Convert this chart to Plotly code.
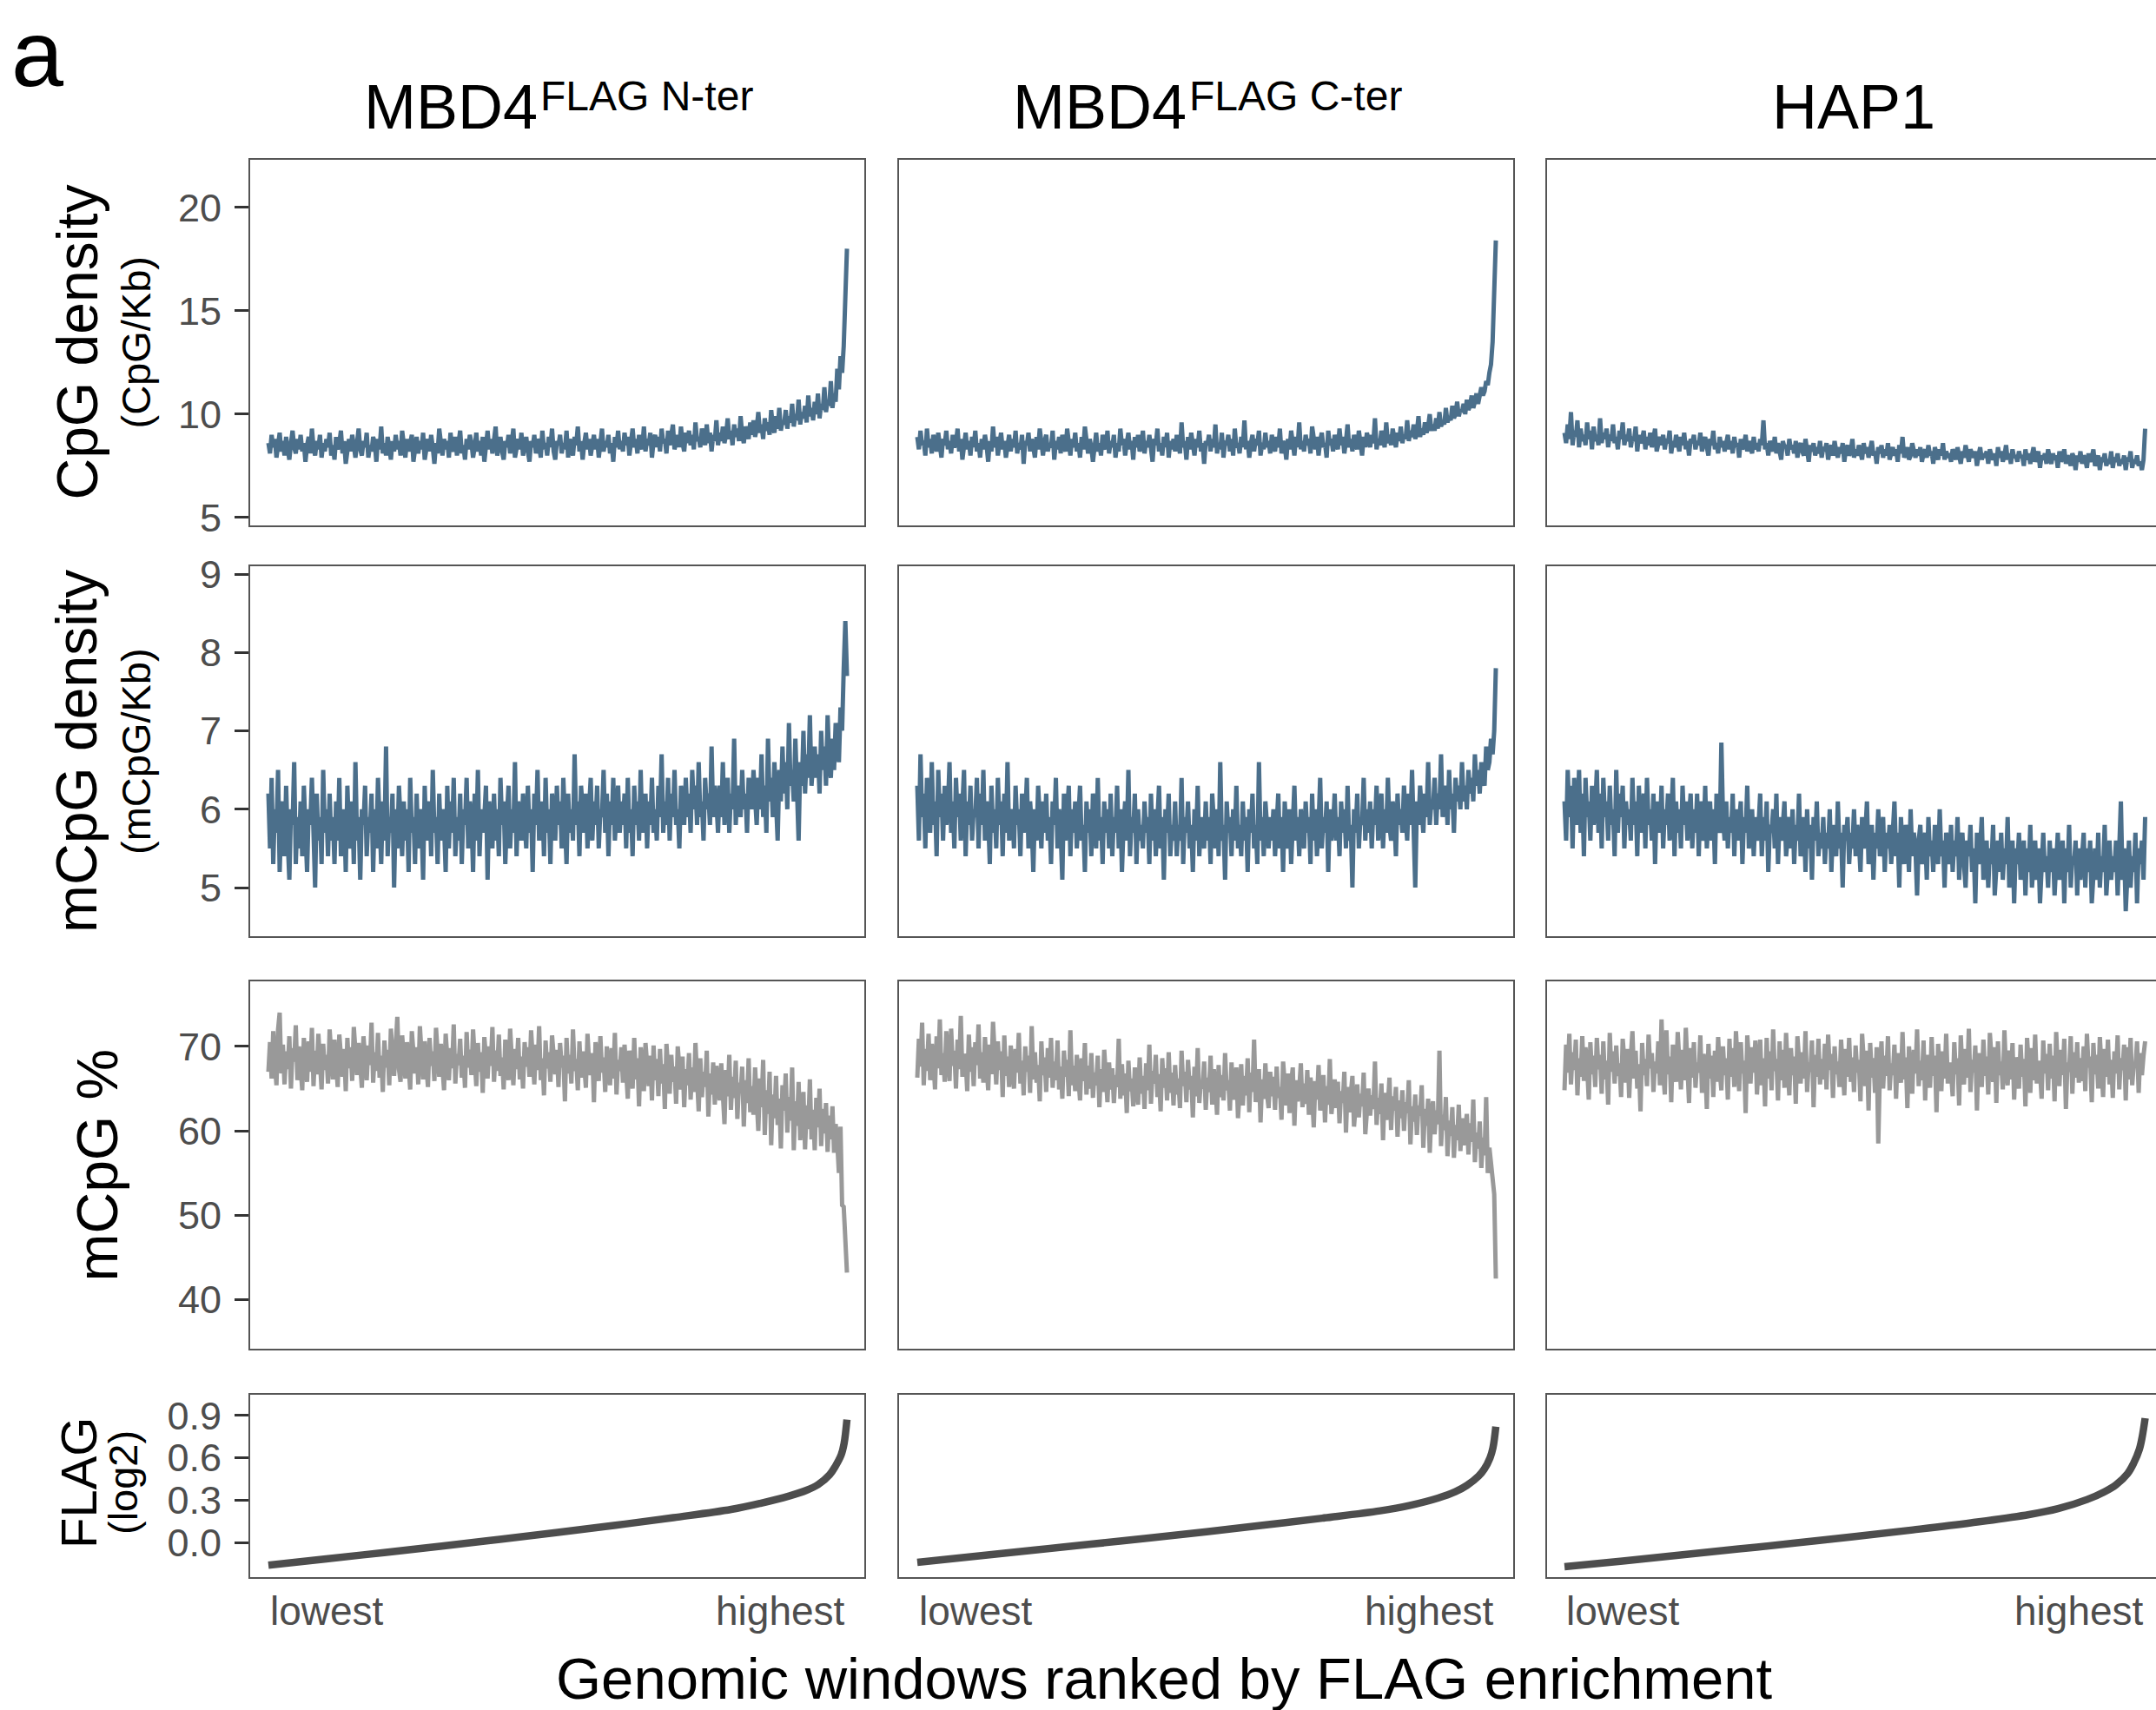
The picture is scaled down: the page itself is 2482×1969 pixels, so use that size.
import plotly.graph_objects as go

W, H = 2482, 1969

# ---------------- data ----------------
col_main = ["MBD4", "MBD4", "HAP1"]
col_sup = ["FLAG N-ter", "FLAG C-ter", None]
x_tick_labels = ["lowest", "highest"]
x_title = "Genomic windows ranked by FLAG enrichment"

cpg_nter = [
    8.6, 8.1, 9.0, 8.4, 8.8, 7.9, 8.5, 9.1, 8.2, 8.7, 8.0, 8.9, 8.3, 7.8, 8.6, 9.2, 8.4, 8.1, 8.8, 8.3,
    9.0, 8.2, 8.6, 7.7, 8.5, 8.9, 8.1, 9.3, 8.4, 8.0, 8.7, 8.3, 9.0, 7.9, 8.6, 8.2, 8.8, 8.4, 9.1, 8.0,
    8.5, 7.8, 8.9, 8.3, 8.6, 9.2, 8.1, 8.7, 7.6, 8.4, 8.8, 8.2, 9.0, 8.5, 7.9, 8.6, 9.3, 8.3, 8.0, 8.7,
    8.4, 9.1, 7.9, 8.5, 8.2, 8.9, 8.6, 7.7, 8.8, 8.3, 9.4, 8.1, 8.6, 8.0, 8.9, 8.4, 7.8, 8.7, 8.2, 9.0,
    8.3, 8.7, 8.0, 9.2, 8.5, 7.9, 8.8, 8.2, 8.6, 9.0, 7.7, 8.4, 8.9, 8.1, 8.7, 8.3, 9.1, 7.8, 8.5, 8.8,
    8.2, 9.0, 8.4, 7.6, 8.6, 8.1, 9.3, 8.5, 8.0, 8.8, 8.3, 8.7, 7.9, 9.1, 8.4, 8.2, 8.9, 8.0, 8.6, 9.2,
    8.1, 8.5, 7.8, 8.8, 8.3, 9.0, 8.6, 7.9, 8.4, 9.1, 8.2, 8.7, 8.0, 8.9, 7.7, 8.5, 9.2, 8.3, 8.8, 8.1,
    8.6, 9.4, 8.0, 8.5, 8.9, 8.2, 7.8, 8.7, 8.4, 9.0, 8.1, 8.6, 9.3, 7.9, 8.5, 8.8, 8.3, 9.1, 8.0, 8.6,
    8.9, 8.2, 7.7, 8.7, 8.4, 9.0, 8.1, 8.8, 8.5, 7.9, 9.2, 8.3, 8.6, 8.0, 8.9, 8.4, 9.3, 8.2, 7.8, 8.7,
    8.5, 9.0, 8.1, 8.6, 8.3, 9.2, 7.9, 8.8, 8.4, 8.0, 8.9, 8.5, 9.4, 8.2, 8.7, 7.8, 8.6, 9.1, 8.3, 8.8,
    8.0, 8.6, 9.0, 8.3, 8.8, 7.9, 8.5, 9.3, 8.2, 8.7, 8.4, 9.0, 8.1, 8.6, 7.7, 8.9, 8.4, 9.2, 8.3, 8.7,
    8.2, 9.1, 8.5, 8.9, 8.0, 8.7, 9.3, 8.4, 8.8, 8.1, 9.0, 8.6, 8.3, 9.4, 8.2, 8.8, 8.5, 9.1, 7.9, 8.7,
    9.0, 8.4, 8.9, 8.2, 9.3, 8.6, 8.8, 8.1, 9.2, 8.5, 8.9, 9.5, 8.3, 8.7, 9.0, 8.4, 9.4, 8.6, 8.2, 9.1,
    8.6, 9.2, 8.5, 9.0, 8.3, 9.6, 8.7, 8.9, 8.4, 9.3, 8.8, 8.5, 9.5, 8.6, 9.1, 8.2, 9.0, 8.7, 9.7, 8.5,
    9.1, 8.7, 9.4, 8.6, 9.0, 9.8, 8.8, 9.2, 8.5, 9.5, 8.9, 9.3, 8.7, 9.9, 9.0, 8.6, 9.4, 9.1, 8.8, 9.6,
    9.0, 9.7, 8.9, 9.3, 10.1, 9.1, 9.5, 8.8, 9.8, 9.2, 9.6, 9.0, 10.2, 9.4, 9.1, 9.9, 9.3, 10.3, 9.2, 9.7,
    9.5, 10.2, 9.3, 9.9, 9.6, 10.5, 9.4, 10.0, 9.7, 10.7, 9.5, 10.1, 9.8, 10.4, 9.6, 10.9, 9.9, 10.3, 9.7, 10.6,
    10.0, 11.0, 9.8, 10.5, 10.2, 11.3, 10.1, 10.7, 10.4, 11.6, 10.3, 11.0, 10.6, 12.2, 11.2, 12.8, 12.0, 13.3, 15.2, 18.0,
]
cpg_cter = [
    8.9, 8.3, 9.2, 8.5, 8.7, 8.0, 9.3, 8.4, 8.8, 8.1, 9.0, 8.6, 8.2, 9.1, 8.4, 7.9, 8.8, 8.5, 9.2, 8.3,
    8.7, 8.1, 9.0, 8.4, 8.6, 9.3, 8.2, 8.8, 7.8, 8.5, 9.1, 8.3, 8.7, 8.0, 8.9, 8.4, 9.2, 8.2, 8.6, 7.9,
    8.8, 8.3, 9.0, 8.5, 7.7, 8.7, 8.2, 9.4, 8.4, 8.9, 8.0, 8.6, 9.1, 8.3, 8.7, 7.9, 8.5, 9.0, 8.2, 8.8,
    8.4, 9.2, 8.1, 8.6, 8.3, 9.0, 7.6, 8.7, 8.5, 9.1, 8.2, 8.8, 8.4, 7.9, 8.9, 8.3, 9.3, 8.5, 8.0, 8.7,
    9.0, 8.2, 8.6, 8.4, 9.2, 7.8, 8.7, 8.3, 8.9, 8.1, 9.0, 8.5, 8.2, 9.3, 8.6, 8.0, 8.8, 8.4, 9.1, 8.2,
    8.6, 7.9, 8.9, 8.3, 9.4, 8.5, 8.1, 8.8, 8.4, 7.7, 8.7, 9.1, 8.2, 8.6, 8.0, 9.0, 8.5, 8.3, 9.2, 8.1,
    8.7, 8.4, 9.0, 7.9, 8.6, 8.2, 9.3, 8.5, 8.8, 8.0, 8.6, 9.1, 8.3, 8.7, 7.8, 8.9, 8.4, 9.0, 8.2, 8.5,
    9.2, 8.1, 8.7, 8.4, 9.0, 8.3, 7.7, 8.8, 8.5, 9.3, 8.2, 8.6, 8.0, 8.9, 8.4, 9.1, 7.9, 8.7, 8.3, 8.8,
    8.2, 9.0, 8.5, 8.1, 9.6, 8.4, 8.7, 7.8, 8.9, 8.3, 9.1, 8.6, 8.0, 8.8, 8.4, 9.2, 8.2, 8.6, 7.6, 8.7,
    8.5, 9.0, 8.2, 8.8, 8.4, 9.5, 8.1, 8.6, 8.3, 9.1, 7.9, 8.7, 8.5, 9.0, 8.2, 8.8, 8.0, 9.3, 8.4, 8.6,
    8.1, 8.9, 8.4, 9.7, 8.3, 8.7, 7.9, 8.6, 9.0, 8.2, 8.8, 8.5, 9.2, 8.0, 8.6, 8.3, 9.1, 8.4, 8.7, 8.1,
    9.0, 8.5, 8.2, 8.9, 8.4, 9.3, 8.1, 8.7, 8.5, 7.8, 8.8, 8.3, 9.2, 8.6, 8.0, 8.9, 8.4, 9.6, 8.3, 8.7,
    8.2, 9.0, 8.5, 8.8, 8.1, 9.4, 8.6, 8.3, 8.9, 8.0, 8.7, 9.1, 8.4, 8.6, 7.9, 9.2, 8.5, 8.8, 8.2, 9.0,
    8.6, 8.3, 9.3, 8.5, 8.9, 8.1, 8.7, 9.5, 8.4, 8.8, 8.2, 9.0, 8.6, 8.3, 9.2, 8.5, 8.0, 8.9, 8.4, 9.1,
    8.7, 8.4, 9.0, 8.6, 9.8, 8.3, 8.8, 8.5, 9.2, 8.7, 8.4, 9.6, 8.6, 9.0, 8.5, 9.3, 8.8, 8.4, 9.1, 8.7,
    9.4, 8.6, 9.0, 8.8, 9.7, 8.7, 9.2, 8.9, 9.5, 8.8, 9.1, 9.9, 8.9, 9.3, 9.0, 9.6, 9.1, 9.4, 10.0, 9.2,
    9.5, 9.2, 9.8, 9.3, 10.1, 9.4, 9.7, 9.5, 10.3, 9.6, 9.9, 9.7, 10.4, 9.8, 10.0, 10.6, 9.9, 10.2, 10.1, 10.5,
    10.0, 10.7, 10.2, 10.4, 10.9, 10.3, 10.6, 11.0, 10.5, 10.8, 11.3, 10.9, 11.1, 11.6, 11.4, 12.0, 12.4, 13.5, 15.5, 18.4,
]
cpg_hap1 = [
    9.1, 8.6, 9.5, 8.8, 10.1, 8.5, 9.2, 8.9, 9.7, 8.4, 9.3, 8.7, 9.0, 8.5, 9.6, 8.8, 9.2, 8.3, 9.4, 8.7,
    9.0, 8.5, 9.8, 8.6, 9.1, 8.8, 9.3, 8.4, 9.0, 8.7, 9.5, 8.6, 8.9, 8.3, 9.2, 8.8, 9.6, 8.5, 9.0, 8.7,
    9.3, 8.4, 8.9, 8.7, 9.4, 8.2, 9.0, 8.6, 8.8, 9.2, 8.3, 8.9, 8.5, 9.1, 8.4, 8.8, 9.3, 8.2, 8.7, 8.9,
    8.5, 9.0, 8.3, 8.8, 8.6, 9.2, 8.1, 8.7, 8.4, 9.0, 8.6, 8.2, 8.9, 8.5, 9.1, 8.3, 8.7, 8.0, 8.8, 8.6,
    9.0, 8.3, 8.7, 8.5, 9.1, 8.2, 8.6, 8.9, 8.4, 8.0, 8.8, 8.5, 9.2, 8.3, 8.6, 8.1, 8.9, 8.4, 8.7, 8.2,
    8.6, 9.0, 8.3, 8.7, 8.1, 8.9, 8.4, 8.6, 7.9, 8.8, 8.3, 8.5, 9.0, 8.2, 8.7, 8.4, 8.1, 8.9, 8.3, 8.6,
    8.2, 8.8, 8.5, 9.7, 8.3, 8.6, 8.0, 8.7, 8.4, 8.2, 8.9, 8.1, 8.6, 8.3, 7.8, 8.7, 8.4, 8.5, 8.0, 8.8,
    8.3, 8.5, 8.1, 8.7, 7.9, 8.4, 8.6, 8.2, 8.0, 8.8, 8.3, 7.7, 8.5, 8.2, 8.6, 8.0, 8.4, 8.1, 8.7, 7.9,
    8.4, 8.2, 8.6, 7.8, 8.3, 8.5, 8.0, 8.7, 8.2, 7.9, 8.4, 8.1, 8.6, 7.7, 8.3, 8.5, 8.0, 8.2, 8.8, 7.9,
    8.3, 8.0, 8.5, 8.2, 7.8, 8.6, 8.1, 8.4, 7.9, 8.3, 8.7, 8.0, 8.2, 7.6, 8.4, 8.1, 8.5, 7.9, 8.3, 8.0,
    8.6, 7.8, 8.2, 8.4, 8.0, 8.3, 7.7, 8.5, 8.1, 8.9, 7.9, 8.2, 8.4, 7.8, 8.0, 8.6, 8.1, 7.9, 8.3, 8.0,
    8.4, 7.7, 8.1, 8.3, 7.9, 8.5, 8.0, 8.2, 7.6, 8.4, 8.1, 7.8, 8.3, 8.0, 8.6, 7.8, 8.2, 7.9, 8.1, 7.7,
    8.3, 8.0, 7.8, 8.4, 8.1, 7.6, 8.2, 7.9, 8.5, 8.0, 7.7, 8.3, 8.1, 7.9, 8.2, 7.5, 8.0, 8.4, 7.8, 8.1,
    7.9, 8.2, 7.6, 8.3, 8.0, 7.8, 8.1, 7.5, 8.4, 7.9, 8.2, 7.7, 8.0, 8.5, 7.8, 8.1, 7.6, 8.3, 7.9, 8.0,
    7.7, 8.2, 7.9, 8.0, 7.5, 8.3, 7.8, 8.1, 7.6, 8.0, 8.4, 7.7, 7.9, 8.2, 7.4, 8.0, 7.8, 8.1, 7.6, 8.3,
    7.9, 7.6, 8.1, 7.8, 8.0, 7.4, 8.2, 7.7, 7.9, 8.3, 7.6, 8.0, 7.8, 7.5, 8.1, 7.9, 7.3, 8.0, 7.7, 8.2,
    7.6, 8.0, 7.8, 7.4, 8.1, 7.7, 7.9, 8.3, 7.5, 7.8, 8.0, 7.3, 7.9, 7.7, 8.1, 7.5, 7.8, 7.6, 8.2, 7.4,
    7.9, 7.7, 8.1, 7.5, 7.8, 7.6, 8.0, 7.3, 7.9, 7.7, 8.2, 7.4, 7.8, 7.6, 8.0, 7.5, 7.7, 7.3, 7.8, 9.3,
]

mcpg_dens_nter = [
    6.2, 5.5, 6.4, 5.3, 6.0, 5.7, 6.5, 5.2, 5.9, 6.1, 5.4, 6.3, 5.6, 5.1, 6.0, 5.8, 6.6, 5.3, 5.9, 5.5,
    6.1, 5.4, 6.3, 5.7, 5.2, 6.0, 5.8, 6.4, 5.5, 5.0, 6.2, 5.6, 5.9, 5.3, 6.5, 5.7, 6.0, 5.4, 6.2, 5.6,
    5.9, 5.3, 6.1, 5.6, 6.4, 5.4, 5.8, 6.0, 5.2, 6.3, 5.7, 5.5, 6.1, 5.3, 6.6, 5.6, 5.9, 5.1, 6.0, 5.8,
    6.3, 5.4, 5.9, 5.7, 6.2, 5.2, 6.0, 5.5, 6.4, 5.8, 5.3, 6.1, 5.6, 6.8, 5.4, 5.9, 5.7, 6.2, 5.0, 6.0,
    5.5, 6.3, 5.8, 5.4, 6.1, 5.6, 6.0, 5.2, 6.4, 5.7, 5.9, 5.3, 6.2, 5.5, 6.0, 5.8, 5.1, 6.3, 5.6, 5.9,
    6.1, 5.4, 6.5, 5.7, 5.9, 5.3, 6.2, 5.6, 6.0, 5.8, 5.2, 6.3, 5.5, 6.1, 5.7, 6.4, 5.4, 5.9, 5.6, 6.2,
    5.3, 6.0, 5.8, 6.4, 5.5, 6.1, 5.9, 5.2, 6.2, 5.6, 6.5, 5.4, 6.0, 5.7, 5.9, 6.3, 5.1, 6.1, 5.8, 5.5,
    6.2, 5.6, 6.0, 5.4, 6.4, 5.8, 6.1, 5.3, 5.9, 6.3, 5.5, 6.0, 5.7, 6.6, 5.4, 6.1, 5.9, 5.6, 6.2, 5.8,
    5.5, 6.3, 5.7, 6.0, 5.2, 6.2, 5.8, 6.5, 5.6, 5.9, 6.1, 5.4, 6.4, 5.7, 6.0, 5.3, 6.2, 5.9, 5.6, 6.3,
    5.8, 6.1, 5.5, 6.4, 5.9, 5.3, 6.2, 5.7, 6.0, 5.6, 6.7, 5.8, 6.1, 5.4, 6.3, 5.9, 5.7, 6.2, 5.5, 6.0,
    6.4, 5.6, 6.1, 5.8, 6.3, 5.5, 6.0, 5.9, 6.5, 5.7, 6.2, 5.4, 6.1, 5.8, 6.4, 5.6, 6.0, 6.3, 5.7, 6.1,
    5.8, 6.2, 5.5, 6.4, 5.7, 6.0, 5.4, 6.3, 5.8, 6.1, 5.6, 6.5, 5.7, 5.9, 6.2, 5.5, 6.1, 5.8, 6.4, 5.7,
    6.0, 5.6, 6.3, 5.9, 6.7, 5.7, 6.1, 5.8, 6.4, 5.6, 6.2, 5.9, 6.5, 5.8, 6.0, 5.5, 6.3, 6.1, 5.8, 6.4,
    5.9, 6.2, 5.7, 6.5, 6.0, 6.3, 5.8, 6.6, 5.9, 6.1, 5.6, 6.4, 6.0, 6.2, 5.8, 6.8, 5.9, 6.3, 6.1, 5.7,
    6.3, 5.9, 6.6, 5.8, 6.1, 6.4, 5.7, 6.2, 6.0, 6.9, 5.8, 6.3, 6.1, 5.9, 6.5, 6.0, 6.2, 5.7, 6.4, 6.1,
    6.0, 6.5, 6.1, 5.8, 6.4, 6.0, 6.7, 5.9, 6.3, 5.7, 6.9, 6.1, 6.4, 5.9, 6.6, 6.2, 5.6, 6.5, 6.1, 6.8,
    6.2, 6.6, 6.0, 7.1, 6.3, 6.5, 6.1, 6.9, 6.4, 5.6, 6.6, 6.3, 7.0, 6.2, 6.7, 6.4, 7.2, 6.3, 6.6, 6.8,
    6.4, 6.7, 6.2, 7.0, 6.5, 6.8, 6.3, 7.2, 6.6, 6.4, 6.9, 6.5, 7.1, 6.8, 6.6, 7.3, 7.0, 7.8, 8.4, 7.7,
]
mcpg_dens_cter = [
    6.3, 5.6, 6.7, 5.9, 6.2, 5.5, 6.4, 6.0, 5.7, 6.6, 5.8, 6.1, 5.4, 6.5, 5.9, 6.2, 5.6, 6.3, 5.8, 6.0,
    6.6, 5.7, 6.1, 5.5, 6.4, 5.9, 6.2, 5.6, 6.0, 6.5, 5.4, 6.1, 5.8, 6.3, 5.6, 6.0, 5.9, 6.4, 5.5, 6.2,
    5.8, 6.5, 5.6, 6.1, 5.9, 5.3, 6.3, 5.7, 6.0, 5.5, 6.4, 5.8, 6.1, 5.4, 6.2, 5.7, 6.6, 5.6, 5.9, 6.0,
    5.5, 6.3, 5.8, 6.0, 5.4, 6.2, 5.7, 5.9, 6.4, 5.5, 6.1, 5.8, 5.2, 6.0, 5.6, 6.3, 5.9, 5.5, 6.1, 5.7,
    6.2, 5.6, 5.9, 5.3, 6.1, 5.8, 6.4, 5.5, 6.0, 5.7, 5.1, 6.2, 5.6, 5.9, 6.3, 5.4, 6.0, 5.7, 6.1, 5.5,
    5.9, 6.3, 5.6, 5.8, 5.2, 6.1, 5.7, 6.0, 5.4, 6.2, 5.8, 5.5, 6.4, 5.6, 5.9, 5.3, 6.1, 5.7, 6.0, 5.5,
    6.2, 5.4, 5.9, 5.7, 6.3, 5.5, 6.0, 5.2, 5.8, 6.1, 5.6, 6.5, 5.4, 5.9, 5.7, 6.2, 5.3, 6.0, 5.6, 5.8,
    5.5, 6.1, 5.7, 5.9, 5.3, 6.2, 5.6, 6.0, 5.4, 5.8, 6.3, 5.5, 5.9, 5.1, 6.0, 5.7, 6.2, 5.4, 5.8, 5.6,
    6.1, 5.4, 5.8, 5.6, 6.4, 5.3, 5.9, 5.7, 6.1, 5.5, 5.8, 5.2, 6.0, 5.6, 6.3, 5.4, 5.9, 5.7, 5.5, 6.1,
    5.6, 5.9, 5.3, 6.2, 5.7, 5.5, 6.0, 5.4, 6.6, 5.6, 5.8, 5.1, 6.1, 5.7, 5.9, 5.4, 6.0, 5.6, 6.3, 5.5,
    5.8, 5.4, 6.1, 5.6, 5.9, 5.2, 6.0, 5.7, 6.2, 5.5, 5.8, 5.3, 6.6, 5.6, 5.9, 5.4, 6.1, 5.7, 5.5, 5.9,
    5.6, 6.0, 5.4, 5.8, 6.2, 5.5, 5.9, 5.2, 6.1, 5.7, 5.5, 6.0, 5.3, 5.8, 6.3, 5.6, 5.9, 5.4, 6.0, 5.7,
    5.5, 6.1, 5.7, 5.9, 5.3, 6.2, 5.6, 6.0, 5.4, 5.8, 6.4, 5.5, 5.9, 5.7, 6.1, 5.2, 6.0, 5.6, 5.8, 6.2,
    5.6, 5.9, 5.4, 6.1, 5.7, 6.0, 5.5, 6.3, 5.6, 5.8, 5.0, 6.0, 5.7, 6.2, 5.5, 5.9, 5.8, 6.4, 5.6, 6.0,
    5.7, 6.1, 5.5, 6.0, 5.8, 6.3, 5.6, 5.9, 6.2, 5.5, 6.0, 5.7, 6.4, 5.8, 5.6, 6.1, 5.9, 5.4, 6.2, 5.8,
    6.0, 5.7, 6.3, 5.9, 5.6, 6.2, 5.8, 6.5, 5.9, 5.0, 6.1, 5.8, 6.3, 6.0, 5.7, 6.2, 5.9, 6.6, 5.8, 6.1,
    6.0, 6.4, 5.8, 6.2, 6.0, 6.7, 5.9, 6.1, 6.3, 5.8, 6.5, 6.0, 6.2, 5.7, 6.4, 6.1, 6.3, 6.0, 6.6, 6.1,
    6.3, 6.0, 6.5, 6.2, 6.4, 6.1, 6.7, 6.3, 6.5, 6.2, 6.6, 6.4, 6.3, 6.8, 6.5, 6.6, 6.9, 6.7, 7.0, 7.8,
]
mcpg_dens_hap1 = [
    6.1, 5.6, 6.5, 5.9, 6.3, 5.5, 6.4, 6.0, 5.8, 6.5, 5.7, 6.2, 5.4, 6.4, 5.9, 6.1, 5.6, 6.3, 5.8, 6.0,
    6.5, 5.7, 6.2, 5.5, 6.4, 5.9, 6.1, 5.6, 6.3, 5.8, 6.0, 5.4, 6.5, 5.7, 6.2, 5.9, 6.3, 5.5, 6.1, 5.8,
    6.0, 5.6, 6.4, 5.8, 6.1, 5.4, 6.3, 5.7, 5.9, 6.2, 5.5, 6.4, 5.8, 6.0, 5.6, 6.2, 5.3, 6.1, 5.9, 5.7,
    6.3, 5.5, 6.0, 5.8, 6.2, 5.6, 5.9, 6.4, 5.4, 6.1, 5.7, 6.0, 5.5, 6.3, 5.8, 6.1, 5.6, 5.9, 6.2, 5.5,
    6.0, 5.7, 6.2, 5.4, 6.1, 5.8, 5.6, 6.3, 5.5, 5.9, 6.1, 5.6, 6.0, 5.3, 6.2, 5.8, 5.7, 6.85, 5.9, 5.6,
    6.1, 5.5, 5.9, 5.7, 6.2, 5.4, 6.0, 5.6, 5.8, 6.1, 5.3, 5.9, 5.7, 6.3, 5.5, 5.8, 6.0, 5.4, 5.9, 5.6,
    5.8, 6.2, 5.4, 5.9, 5.6, 6.1, 5.2, 5.8, 5.7, 6.0, 5.5, 6.2, 5.3, 5.9, 5.6, 5.8, 6.1, 5.4, 5.7, 5.9,
    5.5, 6.0, 5.3, 5.8, 5.6, 6.2, 5.4, 5.7, 5.9, 5.2, 6.0, 5.5, 5.8, 5.1, 5.9, 5.6, 6.1, 5.4, 5.7, 5.5,
    5.9, 5.3, 5.7, 5.5, 6.0, 5.2, 5.8, 5.6, 5.4, 6.1, 5.5, 5.7, 5.0, 5.8, 5.6, 5.9, 5.3, 5.7, 5.5, 6.0,
    5.4, 5.8, 5.6, 5.2, 5.9, 5.5, 5.7, 6.1, 5.3, 5.6, 5.8, 5.1, 5.7, 5.5, 6.0, 5.4, 5.6, 5.9, 5.2, 5.7,
    5.5, 5.8, 5.3, 5.6, 6.1, 5.4, 5.7, 5.0, 5.9, 5.5, 5.3, 5.8, 5.6, 5.2, 6.0, 5.4, 5.7, 5.5, 4.9, 5.6,
    5.8, 5.3, 5.5, 5.7, 5.1, 5.9, 5.4, 5.6, 5.2, 5.8, 5.5, 5.3, 6.0, 5.4, 5.6, 5.0, 5.7, 5.5, 5.3, 5.8,
    5.2, 5.6, 5.4, 5.9, 5.1, 5.5, 5.7, 5.3, 5.0, 5.6, 5.4, 5.8, 5.2, 5.5, 4.8, 5.7, 5.3, 5.5, 5.9, 5.1,
    5.4, 5.6, 5.0, 5.5, 5.3, 5.8, 4.9, 5.4, 5.6, 5.2, 5.7, 5.1, 5.5, 5.3, 5.9, 5.0, 5.4, 5.6, 4.8, 5.5,
    5.3, 5.7, 5.1, 5.4, 5.6, 4.9, 5.5, 5.2, 5.8, 5.0, 5.4, 5.6, 5.1, 5.5, 4.8, 5.3, 5.7, 5.2, 5.4, 5.0,
    5.6, 5.2, 5.5, 4.9, 5.4, 5.7, 5.1, 5.3, 5.6, 4.8, 5.5, 5.2, 5.8, 5.0, 5.4, 5.3, 5.6, 4.9, 5.5, 5.1,
    5.4, 5.7, 5.0, 5.5, 5.2, 5.6, 4.8, 5.3, 5.5, 5.1, 5.7, 5.0, 5.4, 5.2, 5.8, 4.9, 5.3, 5.6, 5.1, 5.4,
    5.2, 5.6, 4.9, 5.4, 6.1, 5.1, 5.5, 4.7, 5.3, 5.6, 5.0, 5.4, 5.2, 5.7, 4.8, 5.5, 5.3, 5.6, 5.1, 5.9,
]

mcpg_pct_nter = [
    67.0, 70.5, 66.2, 71.8, 68.0, 65.4, 72.0, 74.0, 66.8, 70.2, 65.5, 69.4, 67.3, 71.2, 65.0, 69.8, 68.2, 72.5, 66.0, 70.0,
    67.5, 64.8, 71.0, 68.3, 65.8, 70.6, 67.0, 72.2, 65.3, 69.5, 66.7, 71.5, 68.0, 64.9, 70.3, 67.2, 69.0, 65.6, 72.0, 68.5,
    66.1, 70.8, 67.6, 65.2, 71.4, 68.8, 66.4, 69.7, 64.7, 71.0, 67.4, 69.9, 65.9, 72.3, 68.1, 66.6, 70.4, 67.0, 65.1, 71.2,
    68.6, 66.0, 70.1, 67.8, 72.8, 65.7, 69.3, 67.1, 71.6, 66.3, 68.9, 64.6, 70.7, 67.5, 69.6, 65.4, 72.1, 68.2, 66.5, 70.0,
    73.5, 67.3, 65.8, 71.3, 68.7, 66.2, 70.5, 67.6, 64.9, 71.8, 68.4, 66.8, 69.9, 65.5, 72.4, 67.9, 66.1, 70.6, 68.3, 65.2,
    71.0, 67.7, 69.4, 65.9, 72.2, 68.0, 66.4, 70.3, 67.2, 64.8, 71.5, 68.6, 66.0, 69.8, 67.4, 72.6, 65.6, 69.1, 67.8, 70.9,
    66.3, 68.9, 65.1, 71.7, 67.5, 69.6, 66.6, 72.0, 68.1, 65.3, 70.4, 67.0, 69.3, 64.5, 71.1, 68.4, 66.2, 70.0, 67.7, 72.3,
    65.8, 69.5, 67.1, 71.4, 66.5, 68.7, 64.9, 70.8, 67.9, 66.0, 72.1, 68.2, 65.4, 69.7, 67.3, 71.0, 66.1, 68.8, 65.0, 70.5,
    67.6, 69.9, 66.4, 71.9, 68.0, 65.5, 70.2, 67.2, 72.4, 66.0, 68.6, 64.2, 70.7, 67.4, 69.3, 65.8, 71.3, 68.1, 66.7, 69.6,
    65.2, 70.4, 67.5, 68.9, 63.5, 71.0, 66.8, 69.0, 65.6, 72.0, 67.1, 68.5, 64.8, 70.6, 66.3, 69.4, 67.8, 65.1, 71.5, 68.0,
    66.6, 69.2, 63.4, 70.5, 67.3, 65.9, 71.2, 66.9, 68.7, 64.6, 70.0, 67.0, 65.4, 69.8, 66.2, 71.6, 64.3, 68.4, 67.1, 69.9,
    65.7, 70.2, 66.8, 63.8, 69.5, 67.4, 65.0, 71.0, 66.1, 68.6, 62.9, 69.9, 66.5, 64.7, 70.4, 67.2, 65.3, 68.9, 63.6, 70.1,
    66.0, 68.5, 64.1, 69.7, 65.6, 67.9, 62.6, 70.3, 66.4, 64.4, 69.0, 65.8, 67.6, 63.2, 70.0, 66.2, 64.9, 68.8, 62.8, 67.3,
    65.4, 69.2, 63.7, 67.5, 64.6, 70.4, 65.9, 62.3, 68.6, 64.0, 67.0, 65.2, 69.5, 61.7, 66.8, 64.3, 68.1, 63.1, 67.7, 65.5,
    63.6, 68.0, 64.9, 60.8, 67.2, 64.1, 69.0, 62.5, 66.4, 63.9, 68.3, 61.4, 65.7, 64.5, 67.6, 60.5, 66.0, 63.3, 68.6, 62.2,
    65.3, 61.9, 67.5, 63.4, 60.0, 66.2, 62.8, 68.4, 59.5, 64.8, 62.0, 67.0, 58.3, 64.3, 61.5, 66.5, 60.7, 63.8, 57.9, 65.4,
    62.4, 66.8, 59.8, 64.0, 61.2, 67.5, 57.7, 63.5, 60.6, 65.8, 58.9, 62.7, 64.6, 57.8, 63.0, 60.2, 66.1, 59.0, 62.5, 57.7,
    63.9, 60.4, 65.0, 58.2, 62.6, 59.7, 63.3, 57.5, 61.8, 59.0, 62.9, 57.4, 60.8, 58.6, 55.0, 60.5, 51.2, 51.0, 47.0, 43.2,
]
mcpg_pct_cter = [
    66.3, 70.9, 67.6, 72.8, 65.4, 69.7, 67.1, 71.5, 66.0, 70.3, 68.6, 64.9, 71.2, 67.4, 73.2, 66.6, 69.2, 65.8, 71.8, 68.1,
    65.9, 72.1, 67.7, 69.5, 65.0, 70.8, 67.3, 73.6, 66.4, 69.1, 68.4, 64.7, 71.4, 67.0, 69.9, 65.3, 70.5, 67.8, 72.6, 66.2,
    69.3, 65.7, 71.1, 67.9, 64.8, 70.2, 66.7, 72.9, 68.0, 65.5, 70.6, 67.2, 69.4, 64.0, 71.3, 66.5, 68.8, 65.2, 70.1, 67.5,
    65.0, 69.7, 66.9, 71.6, 65.6, 68.3, 64.2, 70.0, 67.0, 68.9, 64.5, 72.4, 66.1, 69.3, 65.7, 67.8, 63.5, 70.6, 66.6, 68.7,
    64.6, 69.8, 66.3, 71.0, 65.1, 68.2, 66.0, 70.7, 64.9, 67.6, 63.8, 69.5, 66.4, 68.4, 64.1, 71.9, 65.4, 67.7, 64.7, 69.0,
    66.2, 63.6, 68.6, 65.9, 70.4, 64.3, 67.7, 65.0, 69.2, 63.9, 66.9, 65.4, 68.9, 62.8, 67.3, 64.6, 69.6, 66.0, 63.4, 68.1,
    64.9, 67.4, 63.3, 66.6, 65.2, 70.9, 63.8, 67.9, 64.2, 66.8, 62.1, 68.3, 64.7, 66.2, 62.9, 67.5, 65.4, 63.1, 68.7, 64.4,
    66.5, 62.6, 68.0, 64.8, 70.2, 63.2, 67.1, 65.6, 69.0, 64.0, 66.7, 62.3, 68.6, 65.1, 67.4, 63.6, 69.3, 64.5, 66.9, 63.0,
    67.8, 64.3, 66.2, 62.7, 69.5, 65.3, 67.0, 63.4, 68.4, 64.9, 66.5, 61.6, 67.6, 64.1, 69.8, 63.3, 66.0, 65.0, 68.2, 62.5,
    66.3, 64.6, 68.9, 63.1, 67.3, 65.4, 61.9, 67.8, 64.0, 66.6, 63.6, 69.2, 64.8, 66.0, 62.4, 68.1, 63.7, 65.9, 67.5, 61.5,
    65.8, 67.9, 63.0, 66.5, 64.2, 68.6, 62.2, 66.9, 64.6, 70.8, 63.4, 65.5, 67.3, 61.0, 66.1, 63.8, 68.0, 64.4, 62.7, 67.0,
    64.1, 66.4, 62.5, 67.6, 63.9, 65.2, 61.3, 68.2, 64.8, 63.0, 66.8, 62.1, 65.7, 67.5, 60.6, 66.0, 63.5, 64.9, 68.0, 62.8,
    65.6, 63.2, 67.2, 61.9, 66.3, 64.5, 60.4, 65.9, 63.7, 67.8, 62.4, 64.8, 66.6, 61.0, 65.3, 63.1, 68.5, 62.0, 64.6, 66.1,
    62.7, 65.8, 60.9, 64.7, 63.3, 67.0, 59.8, 65.2, 62.2, 64.0, 66.5, 60.5, 63.8, 65.5, 61.6, 64.4, 62.9, 66.9, 59.6, 63.5,
    65.0, 61.8, 64.2, 62.6, 68.2, 60.7, 63.9, 62.0, 65.6, 58.9, 64.5, 61.3, 63.0, 66.3, 60.1, 64.1, 62.4, 65.2, 59.3, 63.6,
    61.5, 64.8, 60.0, 63.4, 62.1, 66.0, 58.4, 62.9, 61.1, 64.3, 59.5, 63.0, 61.8, 65.4, 58.0, 62.6, 60.6, 63.8, 57.4, 62.0,
    63.5, 59.6, 62.4, 60.8, 69.5, 58.2, 61.9, 60.1, 64.0, 57.0, 61.2, 59.4, 62.8, 56.8, 60.7, 58.9, 63.1, 57.6, 61.5, 58.3,
    60.4, 62.0, 57.2, 60.9, 58.7, 63.7, 56.3, 59.8, 57.9, 61.1, 55.6, 59.2, 57.1, 64.0, 55.0, 58.0, 56.2, 54.8, 52.5, 42.5,
]
mcpg_pct_hap1 = [
    64.8, 70.2, 66.9, 71.5, 65.5, 69.3, 67.2, 70.8, 64.2, 68.6, 66.4, 71.2, 65.9, 69.9, 67.6, 63.7, 70.5, 66.7, 68.9, 65.2,
    71.0, 67.3, 69.0, 64.4, 70.6, 66.1, 68.3, 63.1, 71.6, 67.0, 69.4, 65.6, 70.1, 66.5, 68.0, 64.0, 70.9, 67.8, 65.7, 69.7,
    63.9, 68.7, 71.8, 66.2, 69.5, 65.0, 67.9, 62.3, 70.4, 66.6, 68.5, 65.3, 71.4, 67.4, 69.2, 64.6, 68.2, 66.8, 70.6, 65.4,
    73.2, 67.1, 64.3, 71.9, 66.7, 68.8, 63.4, 70.2, 67.2, 65.8, 71.7, 68.4, 64.9, 69.6, 66.0, 72.2, 67.5, 63.3, 69.8, 66.3,
    70.5, 65.1, 68.1, 66.9, 71.3, 64.5, 69.1, 67.7, 62.6, 70.3, 66.2, 68.9, 64.0, 69.5, 65.8, 71.1, 67.0, 64.8, 70.0, 66.6,
    68.6, 63.7, 70.9, 66.4, 69.8, 65.2, 71.8, 67.7, 64.7, 70.5, 66.8, 68.3, 62.1, 71.3, 67.5, 65.6, 69.9, 66.9, 70.7, 64.3,
    67.9, 70.8, 65.4, 68.6, 62.9, 71.0, 66.2, 69.4, 64.8, 72.0, 67.1, 68.5, 63.6, 70.6, 66.0, 69.6, 65.1, 71.6, 67.4, 64.2,
    69.8, 66.6, 68.8, 63.2, 71.2, 67.3, 65.6, 69.3, 66.2, 71.8, 64.6, 68.1, 67.0, 70.7, 62.8, 69.0, 66.4, 70.9, 65.5, 68.5,
    66.1, 70.3, 64.9, 71.4, 67.2, 69.1, 63.9, 70.0, 66.7, 68.2, 65.2, 70.8, 67.6, 64.2, 69.7, 66.4, 71.0, 65.8, 68.7, 64.6,
    70.1, 66.9, 68.4, 63.5, 71.5, 67.0, 65.3, 69.5, 62.4, 70.4, 66.3, 68.6, 64.5, 69.9, 58.5, 67.2, 70.6, 65.0, 68.9, 66.5,
    71.2, 64.8, 68.0, 66.6, 70.2, 63.8, 69.2, 67.4, 65.7, 71.7, 66.1, 68.7, 62.7, 70.0, 67.0, 64.4, 69.6, 66.8, 72.0, 65.3,
    68.3, 66.0, 70.7, 63.6, 69.0, 67.6, 65.1, 71.1, 66.5, 68.9, 62.2, 70.3, 67.3, 64.7, 69.4, 66.2, 71.5, 65.6, 68.1, 67.0,
    64.1, 70.5, 66.7, 68.6, 63.0, 71.3, 67.1, 65.5, 69.7, 66.3, 72.1, 64.6, 68.4, 66.9, 70.1, 62.4, 69.2, 67.5, 65.2, 70.8,
    66.5, 68.8, 64.3, 71.6, 67.4, 65.8, 69.9, 63.3, 70.6, 66.6, 68.2, 64.9, 71.9, 67.0, 65.4, 69.5, 66.1, 70.4, 63.7, 68.7,
    67.8, 65.0, 70.2, 66.4, 68.5, 62.9, 71.0, 67.2, 64.5, 69.8, 66.0, 71.4, 65.6, 68.3, 67.1, 63.8, 70.7, 66.8, 69.1, 64.8,
    70.3, 66.2, 68.9, 63.5, 71.7, 67.4, 65.3, 69.6, 66.6, 70.9, 62.6, 68.1, 67.0, 71.2, 64.4, 69.3, 66.3, 70.5, 65.7, 68.6,
    65.9, 70.0, 64.7, 71.5, 67.5, 68.8, 63.4, 70.4, 66.7, 69.0, 65.0, 71.1, 67.8, 64.0, 69.7, 66.4, 70.8, 65.5, 68.4, 63.9,
    69.4, 66.8, 71.3, 64.9, 68.6, 67.2, 70.2, 63.6, 69.9, 66.1, 71.0, 65.4, 68.0, 67.5, 70.6, 64.5, 69.2, 66.6, 68.9, 70.6,
]

# FLAG enrichment (log2) at selected ranks (fraction of ranked windows)
flag_rank_fraction = [0, 0.1, 0.2, 0.3, 0.4, 0.5, 0.6, 0.7, 0.8, 0.85, 0.9, 0.93, 0.95, 0.97, 0.98, 0.99, 0.995, 1.0]
flag_nter = [-0.16, -0.115, -0.07, -0.024, 0.023, 0.072, 0.123, 0.177, 0.235, 0.278, 0.33, 0.37, 0.41, 0.48, 0.54, 0.62, 0.70, 0.87]
flag_cter = [-0.14, -0.097, -0.054, -0.011, 0.032, 0.077, 0.124, 0.173, 0.225, 0.262, 0.315, 0.36, 0.405, 0.47, 0.52, 0.60, 0.67, 0.82]
flag_hap1 = [-0.17, -0.13, -0.088, -0.045, -0.002, 0.043, 0.09, 0.14, 0.198, 0.24, 0.305, 0.36, 0.41, 0.49, 0.56, 0.66, 0.75, 0.88]

row_titles = [("CpG density", "(CpG/Kb)"), ("mCpG density", "(mCpG/Kb)"), ("mCpG %", None), ("FLAG", "(log2)")]
row_ticks = [[5, 10, 15, 20], [5, 6, 7, 8, 9], [40, 50, 60, 70], [0.0, 0.3, 0.6, 0.9]]
row_ticktext = [["5", "10", "15", "20"], ["5", "6", "7", "8", "9"], ["40", "50", "60", "70"], ["0.0", "0.3", "0.6", "0.9"]]
row_ranges = [[4.62, 22.3], [4.38, 9.1], [34.2, 77.7], [-0.244, 1.046]]

series = [
    [cpg_nter, cpg_cter, cpg_hap1],
    [mcpg_dens_nter, mcpg_dens_cter, mcpg_dens_hap1],
    [mcpg_pct_nter, mcpg_pct_cter, mcpg_pct_hap1],
    [flag_nter, flag_cter, flag_hap1],
]

# ---------------- styling ----------------
BLUE = "#4b6f8b"
GREY = "#999999"
DARK = "#4d4d4d"
row_colors = [BLUE, BLUE, GREY, DARK]
row_widths = [5, 5, 5, 8.5]

FONT = "Liberation Sans, Arial, Helvetica, sans-serif"

col_px = [(288, 995), (1035, 1742), (1781, W)]
row_px = [(184, 605), (652, 1078), (1130, 1553), (1606, 1816)]
# left / right padding of each panel as fractions of the data span
col_pad = [(0.0315, 0.030), (0.0315, 0.030), (0.030, 0.0187)]

n_win = len(cpg_nter)
last = n_win - 1
flag_rank = [f * last for f in flag_rank_fraction]

fig = go.Figure()
layout = {}
for r in range(4):
    for c in range(3):
        k = r * 3 + c + 1
        sfx = "" if k == 1 else str(k)
        xname, yname = "xaxis" + sfx, "yaxis" + sfx
        layout[xname] = dict(
            domain=[col_px[c][0] / W, col_px[c][1] / W],
            range=[-col_pad[c][0] * last, last * (1 + col_pad[c][1])], anchor="y" + sfx,
            showline=True, mirror=True, linecolor="#555555", linewidth=2,
            showgrid=False, zeroline=False, showticklabels=False, ticks="",
            fixedrange=True, automargin=False,
        )
        ya = dict(
            domain=[1 - row_px[r][1] / H, 1 - row_px[r][0] / H],
            range=row_ranges[r], anchor="x" + sfx,
            showline=True, mirror=(c < 2), linecolor="#555555", linewidth=2,
            showgrid=False, zeroline=False, fixedrange=True, automargin=False,
        )
        if c == 0:
            ya.update(tickmode="array", tickvals=row_ticks[r], ticktext=row_ticktext[r],
                      ticks="outside", ticklen=16, tickwidth=3, tickcolor="#333333",
                      tickfont=dict(family=FONT, size=45, color="#4d4d4d"),
                      ticklabelstandoff=6)
        else:
            ya.update(showticklabels=False, ticks="")
        layout[yname] = ya

        ys = series[r][c]
        xs = flag_rank if r == 3 else list(range(len(ys)))
        fig.add_trace(go.Scatter(
            x=xs, y=ys, mode="lines",
            line=dict(color=row_colors[r], width=row_widths[r],
                      shape="spline" if r == 3 else "linear"),
            xaxis="x" + sfx, yaxis="y" + sfx, hoverinfo="skip", showlegend=False,
        ))

annotations = []
# panel letter
annotations.append(dict(text="a", x=12 / W, y=1.0, xref="paper", yref="paper",
                        xanchor="left", yanchor="top", showarrow=False, borderpad=0,
                        font=dict(family=FONT, size=108, color="black")))
# column titles (main text + raised superscript)
col_centers = [641, 1388, 2134]
for c in range(3):
    if col_sup[c]:
        annotations.append(dict(text=col_main[c], x=(col_centers[c] - 20) / W, y=1 - 165 / H,
                                xref="paper", yref="paper", xanchor="right", yanchor="bottom",
                                showarrow=False, font=dict(family=FONT, size=72, color="black")))
        annotations.append(dict(text=col_sup[c], x=(col_centers[c] - 21) / W, y=1 - 139 / H,
                                xref="paper", yref="paper", xanchor="left", yanchor="bottom",
                                showarrow=False, font=dict(family=FONT, size=48, color="black")))
    else:
        annotations.append(dict(text=col_main[c], x=col_centers[c] / W, y=1 - 165 / H,
                                xref="paper", yref="paper", xanchor="center", yanchor="bottom",
                                showarrow=False, font=dict(family=FONT, size=72, color="black")))
# row titles
main_x = [88, 88, 111, 90]
main_size = [66, 66, 66, 58]
sub_x = [156, 156, None, 141]
row_centers = [394.5, 865, 1341.5, 1707]
for r, (main, sub) in enumerate(row_titles):
    annotations.append(dict(text=main, x=main_x[r] / W, y=1 - row_centers[r] / H,
                            xref="paper", yref="paper", xanchor="center", yanchor="middle",
                            textangle=-90, showarrow=False,
                            font=dict(family=FONT, size=main_size[r], color="black")))
    if sub:
        annotations.append(dict(text=sub, x=sub_x[r] / W, y=1 - row_centers[r] / H,
                                xref="paper", yref="paper", xanchor="center", yanchor="middle",
                                textangle=-90, showarrow=False,
                                font=dict(family=FONT, size=47, color="black")))
# x tick labels
for c in range(3):
    xr = "x" + str(9 + c + 1)
    annotations.append(dict(text=x_tick_labels[0], x=0, y=1 - 1883 / H, xref=xr, yref="paper",
                            xanchor="left", yanchor="bottom", showarrow=False,
                            font=dict(family=FONT, size=46, color="#4d4d4d")))
    annotations.append(dict(text=x_tick_labels[1], x=last, y=1 - 1883 / H, xref=xr, yref="paper",
                            xanchor="right", yanchor="bottom", showarrow=False,
                            font=dict(family=FONT, size=46, color="#4d4d4d")))
# x title
annotations.append(dict(text=x_title, x=1340 / W, y=1 - 1932 / H, xref="paper", yref="paper",
                        xanchor="center", yanchor="middle", showarrow=False,
                        font=dict(family=FONT, size=67, color="black")))

fig.update_layout(
    width=W, height=H, margin=dict(l=0, r=0, t=0, b=0, autoexpand=False),
    paper_bgcolor="white", plot_bgcolor="white",
    font=dict(family=FONT), showlegend=False,
    annotations=annotations, **layout,
)

fig.write_html("out.html", include_plotlyjs=True, full_html=True,
               config={"displayModeBar": False, "staticPlot": True})
